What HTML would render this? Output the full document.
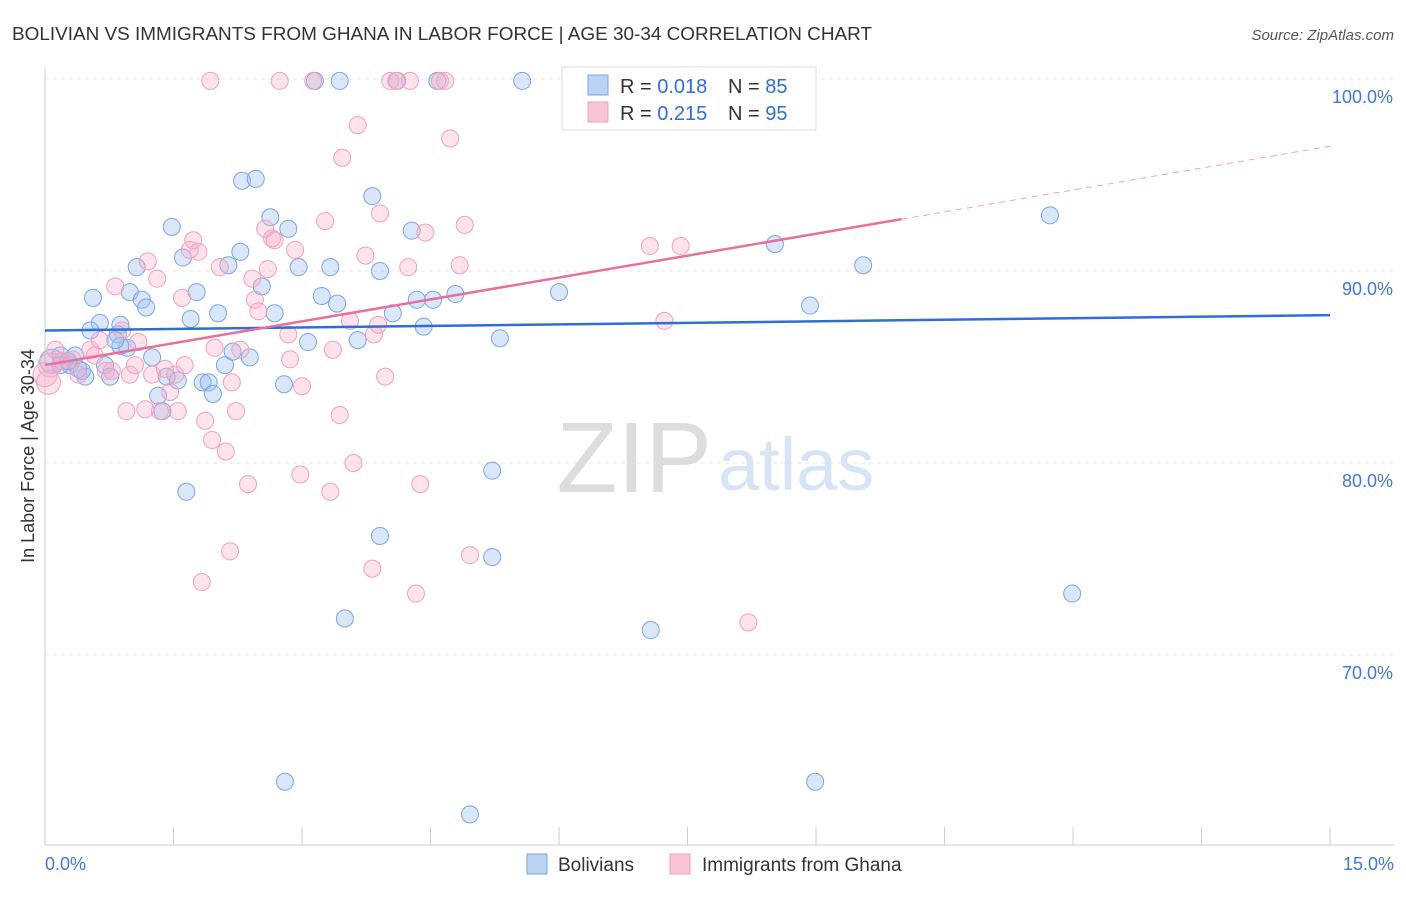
<!DOCTYPE html>
<html><head><meta charset="utf-8"><style>
body{margin:0;background:#fff;font-family:"Liberation Sans",sans-serif;}
svg text{font-family:"Liberation Sans",sans-serif;}
</style></head><body>
<svg id="chart" width="1406" height="892" viewBox="0 0 1406 892" xmlns="http://www.w3.org/2000/svg">
<text x="12" y="40" font-size="18.5" fill="#333" textLength="860" lengthAdjust="spacingAndGlyphs">BOLIVIAN VS IMMIGRANTS FROM GHANA IN LABOR FORCE | AGE 30-34 CORRELATION CHART</text>
<text x="1394" y="40" font-size="15" fill="#555" text-anchor="end" font-style="italic">Source: ZipAtlas.com</text>
<g>
<text x="712" y="492" font-size="100" fill="#ddd" text-anchor="end" font-family="Liberation Serif, serif">ZIP</text>
<text x="718" y="490" font-size="74" fill="#d6e4f5">atlas</text>
</g>
<g id="grid"></g>
<g id="axes"></g>
<g id="pts"></g>
<g id="lines"></g>
<g>
<rect x="562" y="67" width="254" height="63" fill="#fff" stroke="#ddd"/>
<rect x="588" y="75" width="20" height="20" fill="#bcd4f4" stroke="#7aa6e0"/>
<rect x="588" y="102" width="20" height="20" fill="#f8c4d6" stroke="#f0a0c0"/>
<text x="620" y="93" font-size="20" fill="#333">R = <tspan fill="#2f6fd0">0.018</tspan></text>
<text x="728" y="93" font-size="20" fill="#333">N = <tspan fill="#2f6fd0">85</tspan></text>
<text x="620" y="120" font-size="20" fill="#333">R = <tspan fill="#2f6fd0">0.215</tspan></text>
<text x="728" y="120" font-size="20" fill="#333">N = <tspan fill="#2f6fd0">95</tspan></text>
</g>
<g>
<rect x="527" y="854" width="20" height="20" fill="#bcd4f4" stroke="#7aa6e0"/>
<text x="558" y="871" font-size="19" fill="#333">Bolivians</text>
<rect x="670" y="854" width="20" height="20" fill="#f8c4d6" stroke="#f0a0c0"/>
<text x="702" y="871" font-size="19" fill="#333">Immigrants from Ghana</text>
</g>
<text transform="translate(34,456) rotate(-90)" font-size="18" fill="#333" text-anchor="middle">In Labor Force | Age 30-34</text>
</svg>
<script>
const blueX=[0.08,0.18,0.29,0.35,0.47,0.39,0.56,0.64,0.53,0.70,0.76,0.88,0.85,0.96,0.99,1.07,1.13,1.18,1.25,1.32,1.37,1.42,1.48,1.55,1.61,1.65,1.70,1.77,1.84,1.91,1.96,2.02,2.10,2.14,2.19,2.28,2.30,2.39,2.46,2.53,2.63,2.68,2.80,2.79,2.84,2.96,3.07,3.15,3.23,3.33,3.41,3.44,3.50,3.65,3.82,3.91,3.91,4.06,4.11,4.28,4.34,4.42,4.53,4.58,4.79,4.96,5.22,5.22,5.31,5.57,6.00,6.36,7.07,8.11,8.52,8.93,8.99,9.55,11.73,11.99,0.18,0.27,0.43,0.88,0.82];
const blueY=[85.3,85.6,85.1,85.6,84.5,84.9,88.6,87.3,86.9,85.1,84.5,87.2,86.7,86.0,88.9,90.2,88.5,88.1,85.5,83.5,82.7,84.5,92.3,84.3,90.7,78.5,87.5,88.9,84.2,84.2,83.6,87.8,85.1,90.3,85.8,91.0,94.7,85.5,94.8,89.2,92.8,87.8,63.4,84.1,92.2,90.2,86.3,99.9,88.7,90.2,88.3,99.9,71.9,86.4,93.9,90.0,76.2,87.8,99.9,92.1,88.5,87.1,88.5,99.9,88.8,61.7,79.6,75.1,86.5,99.9,88.9,99.9,71.3,99.9,91.4,88.2,63.4,90.3,92.9,73.2,85.1,85.3,84.8,86.1,86.4];
const pinkX=[0.06,0.12,0.20,0.32,0.39,0.53,0.58,0.64,0.71,0.78,0.82,0.90,0.95,0.99,1.05,1.09,1.17,1.20,1.25,1.31,1.34,1.40,1.46,1.52,1.55,1.60,1.63,1.69,1.73,1.79,1.83,1.87,1.93,1.95,1.98,2.04,2.11,2.16,2.18,2.23,2.28,2.37,2.42,2.45,2.49,2.57,2.60,2.65,2.68,2.74,2.84,2.86,2.92,2.98,3.00,3.13,3.27,3.33,3.36,3.44,3.47,3.56,3.60,3.65,3.74,3.82,3.84,3.89,3.91,3.97,4.03,4.10,4.24,4.26,4.33,4.38,4.44,4.61,4.67,4.73,4.84,4.90,4.96,6.16,7.06,7.23,7.42,8.21,0.0,0.04];
const pinkY=[85.1,85.9,85.3,85.4,84.6,85.9,85.6,86.4,84.8,84.8,89.2,86.9,82.7,84.6,85.1,86.3,82.8,90.5,84.6,89.6,82.7,84.9,83.7,84.6,82.7,88.6,85.1,91.1,91.6,91.0,73.8,82.2,99.9,81.2,86.0,90.2,80.6,75.4,84.2,82.7,85.9,78.9,89.6,88.5,87.9,92.2,90.1,91.7,91.6,99.9,86.7,85.4,91.1,79.4,84.0,99.9,92.6,78.5,85.9,82.5,95.9,87.4,80.0,97.6,90.8,74.5,86.7,87.2,93.0,84.5,99.9,99.9,90.2,99.9,73.2,78.9,92.0,99.9,99.9,96.9,90.3,92.4,75.2,97.9,91.3,87.4,91.3,71.7,84.6,84.2];
const yTicks=[100,90,80,70];
const yTickLabels=["100.0%","90.0%","80.0%","70.0%"];
const xTickVals=[0,1.5,3,4.5,6,7.5,9,10.5,12,13.5,15];
const blueTrend=[86.9,87.7];
const pinkTrend=[85.1,96.5];
const pinkSolidEnd=10;

const NS="http://www.w3.org/2000/svg";
const sx=v=>45+v*85.67;
const sy=v=>79+(100-v)*19.2;
function mk(t,a,p){const e=document.createElementNS(NS,t);for(const k in a)e.setAttribute(k,a[k]);p.appendChild(e);return e;}
const grid=document.getElementById('grid'),axes=document.getElementById('axes'),pts=document.getElementById('pts'),lines=document.getElementById('lines');
yTicks.forEach((v,i)=>{
 const l=mk('line',{x1:45,x2:1394,y1:sy(v),y2:sy(v),stroke:'#e4e4e4','stroke-dasharray':'4,4'},grid);
 
 
 const t=mk('text',{x:1393,y:sy(v)+24,'font-size':18,fill:'#3f79d0','text-anchor':'end'},axes);
 t.textContent=yTickLabels[i];
 
 
});
mk('line',{x1:45,x2:45,y1:67,y2:845,stroke:'#ccc'},axes);
mk('line',{x1:45,x2:1394,y1:845,y2:845,stroke:'#ccc'},axes);
xTickVals.forEach(v=>{const l=mk('line',{x1:sx(v),x2:sx(v),y1:827,y2:845,stroke:'#ccc'},axes);
 
 });
let t0=mk('text',{x:45,y:870,'font-size':18,fill:'#3f79d0'},axes);t0.textContent="0.0%";


let t1=mk('text',{x:1394,y:870,'font-size':18,fill:'#3f79d0','text-anchor':'end'},axes);t1.textContent="15.0%";


function dots(X,Y,fill,stroke,name){X.forEach((x,i)=>{
 const r=(x<0.1)?12:8.5;
 const c=mk('circle',{cx:sx(x),cy:sy(Y[i]),r:r,fill:fill,stroke:stroke,'stroke-width':1},pts);
 
 
});}
dots(blueX,blueY,'rgba(160,196,240,0.4)','#7aa6e0','bolivian-point');
dots(pinkX,pinkY,'rgba(245,175,200,0.35)','#f0a0c0','ghana-point');
let bl=mk('line',{x1:sx(0),y1:sy(blueTrend[0]),x2:sx(15),y2:sy(blueTrend[1]),stroke:'#2f6fd0','stroke-width':2.5},lines);


const pm=pinkTrend[0]+(pinkTrend[1]-pinkTrend[0])*pinkSolidEnd/15;
let pl=mk('line',{x1:sx(0),y1:sy(pinkTrend[0]),x2:sx(pinkSolidEnd),y2:sy(pm),stroke:'#e8709a','stroke-width':2.5},lines);


let pd=mk('line',{x1:sx(pinkSolidEnd),y1:sy(pm),x2:sx(15),y2:sy(pinkTrend[1]),stroke:'#f0a0c0','stroke-width':1,'stroke-dasharray':'6,5'},lines);


</script>
</body></html>
